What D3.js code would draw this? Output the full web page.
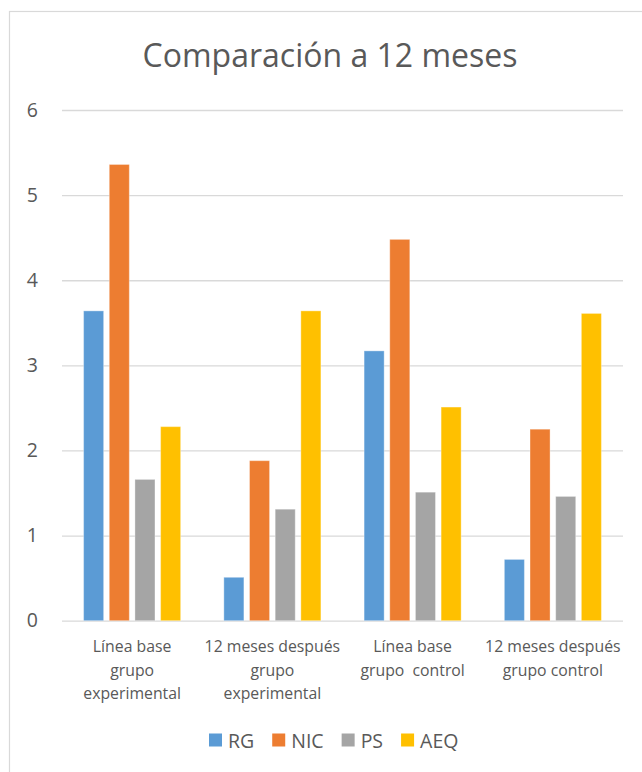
<!DOCTYPE html>
<html>
<head>
<meta charset="utf-8">
<script src="https://cdn.jsdelivr.net/npm/d3@7"></script>
<style>
  html, body { margin: 0; padding: 0; background: #fff; }
  svg { display: block; font-family: "Open Sans", "Noto Sans", sans-serif; }
</style>
</head>
<body>
<svg id="chart" width="642" height="772"></svg>
<script>
// Group labels on the x axis (each entry is one wrapped label, one string per line)
const categories = [
  ["Línea base", "grupo", "experimental"],
  ["12 meses después", "grupo", "experimental"],
  ["Línea base", "grupo  control"],
  ["12 meses después", "grupo control"]
];
const seriesNames = ["RG", "NIC", "PS", "AEQ"];
const seriesColors = ["#5B9BD5", "#ED7D31", "#A5A5A5", "#FFC000"];

// Values per series, one per group
const RG  = [3.64, 0.51, 3.17, 0.72];
const NIC = [5.36, 1.88, 4.48, 2.25];
const PS  = [1.66, 1.31, 1.51, 1.46];
const AEQ = [2.28, 3.64, 2.51, 3.61];
const seriesValues = [RG, NIC, PS, AEQ];

const yTicks = [0, 1, 2, 3, 4, 5, 6];
const title = "Comparación a 12 meses";

const svg = d3.select("#chart");
const textColor = "#595959";
const gridColor = "#D9D9D9";

// chart frame
svg.append("rect")
  .attr("x", 9.5).attr("y", 11.5)
  .attr("width", 700).attr("height", 800)
  .attr("fill", "none").attr("stroke", gridColor).attr("stroke-width", 1.2);

const plot = { left: 62, right: 623, top: 110, bottom: 620.7 };

const x0 = d3.scaleBand()
  .domain(d3.range(categories.length))
  .range([plot.left, plot.right]);

const groupGap = 21.6;
const x1 = d3.scaleBand()
  .domain(seriesNames)
  .range([groupGap, x0.bandwidth() - groupGap])
  .paddingInner(0.219)
  .paddingOuter(0);

const y = d3.scaleLinear().domain([0, 6]).range([plot.bottom, plot.top]);

// title
svg.append("text")
  .attr("x", 330).attr("y", 67)
  .attr("text-anchor", "middle")
  .attr("font-size", 32)
  .attr("fill", textColor)
  .text(title);

// horizontal gridlines and y axis labels
const yAxis = d3.axisLeft(y)
  .tickValues(yTicks)
  .tickSize(-(plot.right - plot.left))
  .tickPadding(24)
  .tickFormat(d3.format("d"));

const yG = svg.append("g")
  .attr("transform", `translate(${plot.left},0)`)
  .call(yAxis);
yG.select(".domain").remove();
yG.selectAll(".tick line")
  .attr("stroke", gridColor).attr("stroke-width", 1.3);
yG.selectAll(".tick text")
  .attr("fill", textColor)
  .attr("font-size", 19.5)
  .attr("font-family", "Open Sans, sans-serif");

// bars
const groups = svg.append("g").selectAll("g")
  .data(categories.map((c, i) => i))
  .join("g")
  .attr("transform", i => `translate(${x0(i)},0)`);

groups.selectAll("rect")
  .data(i => seriesNames.map((s, k) => ({ s, k, v: seriesValues[k][i] })))
  .join("rect")
  .attr("x", d => x1(d.s))
  .attr("width", x1.bandwidth())
  .attr("y", d => y(d.v))
  .attr("height", d => y(0) - y(d.v))
  .attr("fill", d => seriesColors[d.k])
  .attr("stroke", "#fff")
  .attr("stroke-opacity", 0.35)
  .attr("stroke-width", 1);

// category labels
const catG = svg.append("g");
categories.forEach((lines, i) => {
  const cx = x0(i) + x0.bandwidth() / 2;
  const t = catG.append("text")
    .attr("text-anchor", "middle")
    .attr("font-size", 15.8)
    .attr("fill", textColor)
    .attr("xml:space", "preserve")
    .style("white-space", "pre");
  lines.forEach((ln, j) => {
    t.append("tspan")
      .attr("x", cx)
      .attr("y", 652 + j * 23.5)
      .text(ln);
  });
});

// legend
const legend = svg.append("g");
let lx = 209;
seriesNames.forEach((name, k) => {
  legend.append("rect")
    .attr("x", lx).attr("y", 733.5)
    .attr("width", 13).attr("height", 13)
    .attr("fill", seriesColors[k]);
  const t = legend.append("text")
    .attr("x", lx + 19).attr("y", 748)
    .attr("font-size", 19.5)
    .attr("fill", textColor)
    .text(name);
  lx += 19 + t.node().getComputedTextLength() + 18;
});
</script>
</body>
</html>
